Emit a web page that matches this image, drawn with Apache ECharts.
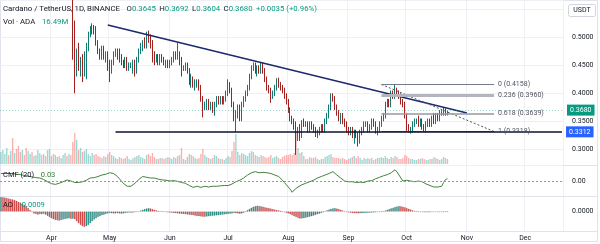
<!DOCTYPE html>
<html>
<head>
<meta charset="utf-8">
<title>Cardano / TetherUS 1D</title>
<script src="https://cdn.jsdelivr.net/npm/echarts@6/dist/echarts.min.js"></script>
</head>
<body style="margin: 0; background: #fff">
<div id="main" style="width: 600px; height: 244px"></div>
<script>
// daily candles [open, close, low, high], 2024-03-06 .. 2024-10-22
const candles = [
  // March (from the 6th)
  [0.68,0.71,0.64,0.73],[0.71,0.72,0.69,0.74],[0.72,0.73,0.70,0.75],[0.73,0.74,0.72,0.75],[0.74,0.73,0.71,0.76],
  [0.73,0.77,0.70,0.78],[0.77,0.74,0.71,0.79],[0.74,0.77,0.73,0.79],[0.77,0.76,0.72,0.80],[0.76,0.71,0.66,0.77],
  [0.71,0.64,0.63,0.72],[0.64,0.66,0.61,0.67],[0.66,0.63,0.62,0.68],[0.63,0.59,0.58,0.64],[0.59,0.63,0.585,0.64],
  [0.63,0.64,0.61,0.66],[0.64,0.62,0.61,0.65],[0.62,0.63,0.61,0.64],[0.63,0.66,0.62,0.67],[0.66,0.66,0.64,0.68],
  [0.66,0.66,0.65,0.68],[0.66,0.65,0.63,0.68],[0.65,0.66,0.64,0.67],[0.66,0.65,0.64,0.67],[0.65,0.65,0.64,0.66],
  [0.65,0.65,0.64,0.66],
  // April
  [0.65,0.62,0.60,0.66],[0.62,0.59,0.58,0.63],[0.59,0.59,0.575,0.60],[0.59,0.60,0.58,0.61],[0.60,0.59,0.575,0.60],
  [0.59,0.60,0.585,0.61],[0.60,0.61,0.595,0.62],[0.61,0.62,0.60,0.64],[0.62,0.59,0.585,0.63],[0.59,0.60,0.575,0.60],
  [0.60,0.585,0.575,0.61],[0.585,0.52,0.46,0.60],[0.52,0.455,0.40,0.53],[0.455,0.47,0.43,0.48],[0.47,0.45,0.44,0.49],
  [0.45,0.45,0.43,0.465],[0.45,0.44,0.42,0.47],[0.44,0.465,0.43,0.475],[0.465,0.48,0.425,0.49],[0.48,0.505,0.475,0.51],
  [0.505,0.51,0.50,0.52],[0.51,0.515,0.505,0.525],[0.515,0.51,0.505,0.522],[0.51,0.49,0.485,0.52],[0.49,0.475,0.47,0.495],
  [0.475,0.47,0.46,0.48],[0.47,0.48,0.46,0.485],[0.48,0.465,0.46,0.485],[0.465,0.47,0.455,0.475],[0.47,0.455,0.44,0.475],
  // May
  [0.455,0.44,0.42,0.46],[0.44,0.455,0.435,0.46],[0.455,0.47,0.45,0.475],[0.47,0.475,0.465,0.48],[0.475,0.47,0.46,0.48],
  [0.47,0.46,0.455,0.48],[0.46,0.455,0.45,0.47],[0.455,0.45,0.445,0.46],[0.45,0.46,0.445,0.465],[0.46,0.445,0.44,0.465],
  [0.445,0.45,0.44,0.455],[0.45,0.45,0.445,0.455],[0.45,0.455,0.435,0.46],[0.455,0.44,0.43,0.46],[0.44,0.46,0.435,0.465],
  [0.46,0.475,0.455,0.48],[0.475,0.48,0.47,0.49],[0.48,0.49,0.475,0.495],[0.49,0.485,0.48,0.50],[0.485,0.505,0.48,0.51],
  [0.505,0.50,0.49,0.512],[0.50,0.49,0.48,0.505],[0.49,0.47,0.455,0.495],[0.47,0.46,0.45,0.475],[0.46,0.465,0.455,0.47],
  [0.465,0.455,0.45,0.47],[0.455,0.465,0.45,0.47],[0.465,0.46,0.455,0.47],[0.46,0.455,0.45,0.465],[0.455,0.455,0.445,0.46],
  [0.455,0.45,0.445,0.46],
  // June
  [0.45,0.455,0.445,0.46],[0.455,0.46,0.45,0.465],[0.46,0.47,0.455,0.475],[0.47,0.465,0.46,0.475],[0.465,0.47,0.46,0.49],
  [0.47,0.455,0.45,0.475],[0.455,0.445,0.43,0.465],[0.445,0.445,0.44,0.45],[0.445,0.45,0.44,0.455],[0.45,0.44,0.435,0.455],
  [0.44,0.42,0.415,0.445],[0.42,0.425,0.41,0.435],[0.425,0.415,0.41,0.43],[0.415,0.415,0.405,0.425],[0.415,0.42,0.41,0.425],
  [0.42,0.41,0.405,0.425],[0.41,0.39,0.385,0.415],[0.39,0.375,0.357,0.395],[0.375,0.38,0.37,0.385],[0.38,0.385,0.37,0.39],
  [0.385,0.375,0.37,0.39],[0.375,0.38,0.37,0.385],[0.38,0.37,0.365,0.385],[0.37,0.38,0.36,0.385],[0.38,0.39,0.375,0.395],
  [0.39,0.385,0.38,0.395],[0.385,0.39,0.38,0.395],[0.39,0.385,0.38,0.395],[0.385,0.39,0.38,0.395],[0.39,0.40,0.385,0.405],
  // July
  [0.40,0.415,0.395,0.425],[0.415,0.405,0.40,0.42],[0.405,0.38,0.375,0.41],[0.38,0.355,0.35,0.385],[0.355,0.365,0.331,0.37],
  [0.365,0.375,0.355,0.38],[0.375,0.36,0.35,0.38],[0.36,0.38,0.35,0.385],[0.38,0.39,0.375,0.395],[0.39,0.40,0.385,0.405],
  [0.40,0.41,0.395,0.415],[0.41,0.43,0.405,0.435],[0.43,0.445,0.425,0.45],[0.445,0.45,0.44,0.455],[0.45,0.44,0.435,0.455],
  [0.44,0.445,0.43,0.45],[0.445,0.44,0.435,0.45],[0.44,0.45,0.435,0.455],[0.45,0.44,0.435,0.455],[0.44,0.425,0.42,0.445],
  [0.425,0.41,0.405,0.43],[0.41,0.405,0.40,0.415],[0.405,0.395,0.383,0.41],[0.395,0.40,0.39,0.405],[0.40,0.41,0.395,0.415],
  [0.41,0.42,0.405,0.427],[0.42,0.415,0.41,0.428],[0.415,0.41,0.405,0.42],[0.41,0.405,0.40,0.415],[0.405,0.395,0.39,0.41],
  [0.395,0.385,0.38,0.40],
  // August
  [0.385,0.37,0.365,0.39],[0.37,0.355,0.35,0.375],[0.355,0.35,0.345,0.36],[0.35,0.345,0.335,0.355],[0.345,0.33,0.29,0.35],
  [0.33,0.335,0.315,0.34],[0.335,0.325,0.315,0.345],[0.325,0.35,0.32,0.352],[0.35,0.345,0.34,0.355],[0.345,0.345,0.34,0.35],
  [0.345,0.335,0.33,0.35],[0.335,0.345,0.33,0.35],[0.345,0.34,0.335,0.35],[0.34,0.335,0.33,0.345],[0.335,0.325,0.322,0.34],
  [0.325,0.33,0.32,0.335],[0.33,0.335,0.325,0.34],[0.335,0.34,0.33,0.345],[0.34,0.335,0.33,0.345],[0.335,0.35,0.33,0.355],
  [0.35,0.36,0.345,0.365],[0.36,0.375,0.355,0.38],[0.375,0.395,0.37,0.40],[0.395,0.39,0.385,0.40],[0.39,0.375,0.37,0.395],
  [0.375,0.365,0.36,0.38],[0.365,0.355,0.35,0.37],[0.355,0.36,0.345,0.365],[0.36,0.35,0.345,0.365],[0.35,0.345,0.34,0.355],
  [0.345,0.335,0.33,0.35],
  // September
  [0.335,0.33,0.325,0.34],[0.33,0.335,0.325,0.34],[0.335,0.325,0.32,0.34],[0.325,0.33,0.31,0.335],[0.33,0.325,0.32,0.335],
  [0.325,0.315,0.305,0.33],[0.315,0.33,0.31,0.335],[0.33,0.335,0.325,0.34],[0.335,0.345,0.33,0.35],[0.345,0.345,0.34,0.35],
  [0.345,0.335,0.33,0.35],[0.335,0.34,0.33,0.345],[0.34,0.35,0.335,0.355],[0.35,0.345,0.34,0.355],[0.345,0.33,0.328,0.35],
  [0.33,0.335,0.325,0.34],[0.335,0.345,0.33,0.35],[0.345,0.355,0.34,0.36],[0.355,0.36,0.35,0.365],[0.36,0.38,0.355,0.385],
  [0.38,0.385,0.375,0.39],[0.385,0.38,0.375,0.39],[0.38,0.40,0.375,0.405],[0.40,0.395,0.39,0.405],[0.395,0.405,0.39,0.4158],
  [0.405,0.40,0.395,0.41],[0.40,0.395,0.39,0.405],[0.395,0.385,0.38,0.40],[0.385,0.38,0.375,0.39],[0.38,0.36,0.355,0.385],
  // October
  [0.36,0.34,0.333,0.365],[0.34,0.335,0.33,0.345],[0.335,0.335,0.328,0.34],[0.335,0.345,0.33,0.35],[0.345,0.35,0.34,0.355],
  [0.35,0.35,0.345,0.355],[0.35,0.345,0.34,0.36],[0.345,0.35,0.34,0.355],[0.35,0.34,0.335,0.355],[0.34,0.335,0.332,0.345],
  [0.335,0.345,0.33,0.35],[0.345,0.35,0.34,0.355],[0.35,0.345,0.34,0.355],[0.345,0.355,0.34,0.36],[0.355,0.35,0.345,0.365],
  [0.35,0.36,0.345,0.365],[0.36,0.355,0.35,0.365],[0.355,0.365,0.35,0.37],[0.365,0.365,0.36,0.37],[0.365,0.37,0.36,0.375],
  [0.37,0.3645,0.36,0.373],[0.3645,0.368,0.3604,0.3692]
];

// volume, millions of ADA
const volumes = [
  360,420,300,480,270,390,780,330,450,540,360,420,270,480,390,300,360,240,270,420,330,270,300,240,420,450,
  240,300,270,210,240,180,270,330,240,300,270,660,930,720,420,480,360,390,450,300,240,330,270,300,240,210,180,240,210,300,
  360,270,240,180,150,210,180,150,180,240,150,120,180,210,240,270,210,180,150,270,300,240,330,210,150,150,180,180,150,180,210,
  180,150,210,180,240,270,480,150,120,210,300,270,240,180,150,180,300,450,270,210,180,150,180,270,240,180,150,150,120,180,
  240,210,390,660,900,360,270,330,300,270,240,330,390,360,270,240,210,270,240,210,180,210,270,180,210,240,180,150,210,240,270,
  270,300,270,330,960,480,330,360,240,150,150,210,180,180,210,150,120,150,150,210,240,270,300,210,180,180,180,150,180,150,120,
  150,180,210,240,180,240,180,120,180,150,180,150,180,120,150,180,180,210,180,240,180,150,210,180,240,210,150,150,180,270,
  240,180,150,150,120,120,150,150,180,150,120,120,150,150,210,180,150,120,150,210,180,150
];

// Chaikin Money Flow (20)
const cmf = [
  0.10,0.11,0.10,0.09,0.10,0.11,0.10,0.09,
  0.09,0.08,0.085,0.07,0.075,0.06,0.065,0.05,0.055,0.05,0.045,0.05,0.04,
  0.03,0.02,0.01,-0.01,-0.02,-0.035,-0.04,-0.045,
  -0.04,-0.03,-0.025,-0.01,-0.005, 0.015,0.02,
  0.0,-0.01,-0.02,-0.03,-0.02,-0.025,-0.01,0.0,
  0.01,0.02,0.04,0.05,0.045,0.055,0.06,
  0.07,0.08,0.075,0.09,0.1,0.11,0.105,0.1,
  0.08,0.06,0.03,0.0,-0.03,-0.05,-0.07,-0.085,
  -0.07,-0.05,-0.03,-0.01,0.02,0.04,0.06,0.07,
  0.05,0.045,0.04,0.03,0.04,0.02,0.025,0.02,0.015,
  0.0,0.01,0.015,0.0,-0.01,0.005,0.01,-0.005,-0.015,-0.02,-0.01,
  -0.03,-0.05,-0.06,-0.075,-0.085,-0.08,
  -0.07,-0.075,-0.085,-0.08,-0.07,-0.075,-0.08,-0.065,-0.07,-0.075,-0.07,-0.06,-0.065,-0.07,-0.06,-0.055,-0.06,-0.05,
  -0.04,-0.03,-0.01,0.0,0.01,0.02,
  0.04,0.06,0.08,0.1,0.11,0.12,0.125,
  0.12,0.11,0.12,0.115,0.1,0.11,0.09,0.1,0.085,0.08,0.07,0.06,
  0.04,0.01,-0.02,-0.05,-0.08,-0.11,-0.15,
  -0.12,-0.1,-0.08,-0.07,-0.05,-0.045,-0.03,-0.02,-0.01,0.0,
  0.01,0.03,0.04,0.05,0.06,0.065,0.08,0.09,0.1,0.11,0.125,
  0.1,0.08,0.06,0.04,0.02,0.0,-0.005,
  -0.01,0.005,-0.01,-0.005,-0.02,-0.01,-0.015,-0.01,-0.02,-0.005,0.0,0.01,0.005,
  0.02,0.03,0.04,0.05,0.06,0.07,0.08,0.085,0.1,0.11,0.13,0.15,
  0.12,0.08,0.04,0.0,
  -0.01,0.01,0.02,0.0,-0.02,-0.01,
  0.01,0.0,-0.02,-0.01,-0.03,-0.04,-0.05,
  -0.06,-0.075,-0.08,-0.085,-0.08,-0.085,-0.07,
  -0.02,0.02,0.03
];

// Awesome Oscillator
const ao = [
  0.12,0.118,0.115,0.112,0.108,0.104, 0.10,0.095,0.088,0.08,0.074, 0.065,0.055,0.045,0.03,0.012,
  -0.005,-0.015,-0.02,-0.025,-0.02,-0.022,-0.018,
  -0.025,-0.035,-0.045,-0.055,-0.062,-0.068,-0.072,-0.076,
  -0.07,-0.065,-0.06, -0.058,-0.055,-0.06,-0.058,-0.062,
  -0.08,-0.095,-0.11,-0.12,-0.125, -0.12,-0.11,-0.095,-0.08,-0.065,
  -0.055,-0.045,-0.038,-0.03,-0.025,-0.02,-0.015,-0.012,
  -0.014,-0.016,-0.015,-0.013,-0.015,-0.017,-0.016,-0.012,-0.01,-0.008,-0.009,-0.007,-0.005,
  -0.002,0.003,0.008,0.014,0.02,0.025,0.028,0.026,
  0.02,0.015,0.01,0.006,0.003,0.001,-0.002,
  -0.004,-0.006,-0.008,-0.01,-0.012,-0.013,-0.015,-0.017,-0.018,-0.02,-0.022,-0.024,-0.026,
  -0.028,-0.03,-0.033,-0.036,-0.038,-0.04,-0.042,-0.043,-0.041,-0.039,
  -0.037,-0.035,-0.033,-0.031,-0.029,-0.027,-0.025,-0.023,-0.021,-0.019,-0.017,-0.015,-0.012,-0.014,-0.016,
  -0.018,-0.016,-0.01,
  0.0,0.012,0.022,0.032,0.04,0.045,0.048,
  0.046,0.044,0.04,0.036,0.032,0.028,0.024,0.02,
  0.016,0.013,0.01,0.006,0.002,
  -0.004,-0.01,-0.016,-0.022,-0.03,-0.038,-0.045,-0.052,-0.058,
  -0.056,-0.054,-0.05,-0.046,-0.042,-0.038,-0.033,-0.028,-0.022,-0.017,-0.012,
  -0.006,0.002,0.01,0.017,0.022,0.026,0.028,
  0.025,0.02,0.015,0.009,0.004,
  -0.002,-0.006,-0.009,-0.011,-0.013,-0.014,-0.015,
  -0.014,-0.013,-0.012,-0.011,-0.01,-0.009,-0.008,-0.007,-0.006,-0.004,-0.002,0.0,0.003,
  0.008,0.014,0.02,0.026,0.032,0.038,0.042,0.045,
  0.044,0.04,0.035,0.029,0.022,0.016,0.01,
  0.005,0.002,-0.001,-0.003,-0.004,-0.005,-0.005,-0.006,-0.005,-0.004,-0.004,-0.003,-0.003,-0.002,-0.002,-0.001,-0.001,-0.0009
];

// drawings
const fibLevels = [['0', 0.4158], ['0.236', 0.3960], ['0.618', 0.3639], ['1', 0.3318]];
const fibStart = '2024-09-18', fibEnd = '2024-11-15';
const trendLine = [['2024-04-30', 0.522], ['2024-11-01', 0.3648]];
const supportStart = '2024-05-04', supportPrice = 0.3312;
const lastPrice = 0.3680;
const monthNames = ['Jan','Feb','Mar','Apr','May','Jun','Jul','Aug','Sep','Oct','Nov','Dec'];

// axis categories: one per day, the right part is empty space
const dates = [];
for (let t = Date.UTC(2024, 2, 6); t <= Date.UTC(2024, 11, 20); t += 86400000) {
  dates.push(new Date(t).toISOString().slice(0, 10));
}
const lastDate = dates[dates.length - 1];

const UP = '#26a69a', DOWN = '#ef5350';
const FONT = 'Roboto';
const isMonthStart = (i, v) => v.slice(8) === '01';

const volData = volumes.map((v, i) => ({
  value: v,
  itemStyle: { color: candles[i][1] >= candles[i][0] ? 'rgba(38,166,154,0.45)' : 'rgba(239,83,80,0.45)' }
}));
const aoData = ao.map((v, i) => ({
  value: v,
  itemStyle: { color: (i === 0 || v >= ao[i - 1]) ? UP : DOWN }
}));

const fibColors = ['#787b86', '#b2b5be', '#9598a1', '#5d606b'];
const fibWidths = [1, 3, 1.5, 1];
const fibLines = fibLevels.map(([name, p], k) => [
  {
    coord: [fibStart, p],
    lineStyle: { color: fibColors[k], width: fibWidths[k], type: 'solid' },
    label: { show: true, position: 'end', formatter: name + ' (' + p.toFixed(4) + ')', color: '#50535e', fontSize: 7, fontFamily: FONT, distance: 4 }
  },
  { coord: [fibEnd, p] }
]);

function xAxis(idx, showLabel) {
  return {
    type: 'category', gridIndex: idx, data: dates, boundaryGap: true,
    axisLine: { show: false }, axisTick: { show: false },
    axisLabel: {
      show: showLabel, interval: isMonthStart, margin: 4,
      formatter: v => monthNames[+v.slice(5, 7) - 1],
      color: '#131722', fontSize: 7, fontFamily: FONT
    },
    splitLine: { show: idx !== 1, interval: isMonthStart, lineStyle: { color: '#eef0f5', width: 1 } }
  };
}

const chart = echarts.init(document.getElementById('main'));
chart.setOption({
  animation: false,
  backgroundColor: '#ffffff',
  grid: [
    { left: 0, right: 37, top: 0, height: 165 },
    { left: 0, right: 37, top: 130, height: 34 },
    { left: 0, right: 37, top: 166, height: 30 },
    { left: 0, right: 37, top: 197, height: 34 }
  ],
  xAxis: [xAxis(0, false), xAxis(1, false), xAxis(2, false), xAxis(3, true)],
  yAxis: [
    {
      type: 'value', gridIndex: 0, position: 'right', min: 0.272, max: 0.5666, splitNumber: 6, scale: true,
      axisLine: { show: false }, axisTick: { show: false },
      axisLabel: {
        showMinLabel: false, showMaxLabel: false, margin: 9,
        formatter: v => (v > 0.29 && v < 0.52) ? v.toFixed(4) : '',
        color: '#131722', fontSize: 7, fontFamily: FONT
      },
      splitLine: { lineStyle: { color: '#eef0f5' } }
    },
    { type: 'value', gridIndex: 1, min: 0, max: 1020, show: false },
    {
      type: 'value', gridIndex: 2, position: 'right', min: -0.2, max: 0.2,
      axisLine: { show: false }, axisTick: { show: false }, splitLine: { show: false },
      axisLabel: { formatter: v => Math.abs(v) < 1e-9 ? '0.00' : '', margin: 9, color: '#131722', fontSize: 7, fontFamily: FONT }
    },
    {
      type: 'value', gridIndex: 3, position: 'right', min: -0.16, max: 0.12,
      axisLine: { show: false }, axisTick: { show: false }, splitLine: { show: false },
      axisLabel: { formatter: v => Math.abs(v) < 1e-9 ? '0.0000' : '', margin: 9, color: '#131722', fontSize: 7, fontFamily: FONT }
    }
  ],
  series: [
    {
      name: 'ADAUSDT', type: 'candlestick', xAxisIndex: 0, yAxisIndex: 0,
      data: candles, barWidth: '65%',
      itemStyle: { color: UP, color0: DOWN, borderColor: '#0f7a70', borderColor0: '#a3201f', borderWidth: 1 },
      markLine: {
        silent: true, symbol: ['none', 'none'], animation: false,
        data: [
          [
            { coord: trendLine[0], lineStyle: { color: '#1c2a6b', width: 1.5, type: 'solid' }, label: { show: false } },
            { coord: trendLine[1] }
          ],
          [
            { coord: [fibStart, fibLevels[0][1]], lineStyle: { color: '#50535e', width: 1, type: [2, 2] }, label: { show: false } },
            { coord: [fibEnd, fibLevels[3][1]] }
          ],
          ...fibLines,
          [
            {
              coord: [supportStart, supportPrice], lineStyle: { color: '#0d1233', width: 1.5, type: 'solid' },
              label: { show: true, position: 'end', formatter: supportPrice.toFixed(4), backgroundColor: '#2962ff', color: '#fff', fontSize: 7, fontFamily: FONT, padding: [2, 3], distance: 4 }
            },
            { coord: [lastDate, supportPrice] }
          ],
          {
            yAxis: lastPrice, lineStyle: { color: 'rgba(38,166,154,0.45)', width: 1, type: [1, 2] },
            label: { show: true, position: 'end', formatter: lastPrice.toFixed(4), backgroundColor: '#089981', color: '#fff', fontSize: 7, fontFamily: FONT, padding: [2, 3], distance: 4 }
          }
        ]
      }
    },
    {
      name: 'Vol', type: 'bar', xAxisIndex: 1, yAxisIndex: 1, data: volData, barWidth: '70%'
    },
    {
      name: 'CMF', type: 'line', xAxisIndex: 2, yAxisIndex: 2, data: cmf,
      showSymbol: false, lineStyle: { color: '#43803f', width: 1 },
      markLine: {
        silent: true, symbol: ['none', 'none'], label: { show: false },
        lineStyle: { color: '#9598a1', type: [2, 2], width: 1 },
        data: [{ yAxis: 0 }]
      }
    },
    {
      name: 'AO', type: 'bar', xAxisIndex: 3, yAxisIndex: 3, data: aoData, barWidth: '80%',
      itemStyle: { borderColor: 'rgba(40,20,20,0.45)', borderWidth: 0.4 }
    }
  ],
  graphic: [
    { type: 'rect', shape: { x: 0.5, y: 0.5, width: 597, height: 241 }, style: { fill: 'none', stroke: '#e0e3eb' }, silent: true },
    { type: 'line', shape: { x1: 0, y1: 165.5, x2: 598, y2: 165.5 }, style: { stroke: '#e0e3eb' }, silent: true },
    { type: 'line', shape: { x1: 0, y1: 196.5, x2: 598, y2: 196.5 }, style: { stroke: '#e0e3eb' }, silent: true },
    { type: 'line', shape: { x1: 0, y1: 231.5, x2: 598, y2: 231.5 }, style: { stroke: '#e0e3eb' }, silent: true },
    {
      type: 'text', left: 3, top: 3, z: 100,
      style: {
        text: '{d|Cardano / TetherUS, 1D, BINANCE}  {d|O}{g|0.3645} {d|H}{g|0.3692} {d|L}{g|0.3604} {d|C}{g|0.3680} {g|+0.0035 (+0.96%)}',
        rich: {
          d: { fill: '#131722', fontSize: 7.8, fontFamily: FONT },
          g: { fill: '#089981', fontSize: 7.8, fontFamily: FONT }
        }
      }
    },
    {
      type: 'text', left: 3, top: 16, z: 100,
      style: {
        text: '{d|Vol · ADA}  {g|16.49M}',
        rich: {
          d: { fill: '#131722', fontSize: 7.8, fontFamily: FONT },
          g: { fill: '#089981', fontSize: 7.8, fontFamily: FONT }
        }
      }
    },
    {
      type: 'text', left: 3, top: 169, z: 100,
      style: {
        text: '{d|CMF (20)}  {g|0.03}',
        rich: {
          d: { fill: '#131722', fontSize: 7.5, fontFamily: FONT },
          g: { fill: '#2e7d32', fontSize: 7.5, fontFamily: FONT }
        }
      }
    },
    {
      type: 'text', left: 3, top: 199, z: 100,
      style: {
        text: '{d|AO}  {g|-0.0009}',
        rich: {
          d: { fill: '#131722', fontSize: 7.5, fontFamily: FONT },
          g: { fill: '#089981', fontSize: 7.5, fontFamily: FONT }
        }
      }
    },
    {
      type: 'group', left: 568, top: 4, z: 100,
      children: [
        { type: 'rect', shape: { x: 0, y: 0, width: 27, height: 12, r: 2 }, style: { fill: '#fff', stroke: '#d1d4dc' } },
        { type: 'text', x: 13.5, y: 6, style: { text: 'USDT', fill: '#131722', fontSize: 7, fontFamily: FONT, align: 'center', verticalAlign: 'middle' } }
      ]
    }
  ]
});
</script>
</body>
</html>
